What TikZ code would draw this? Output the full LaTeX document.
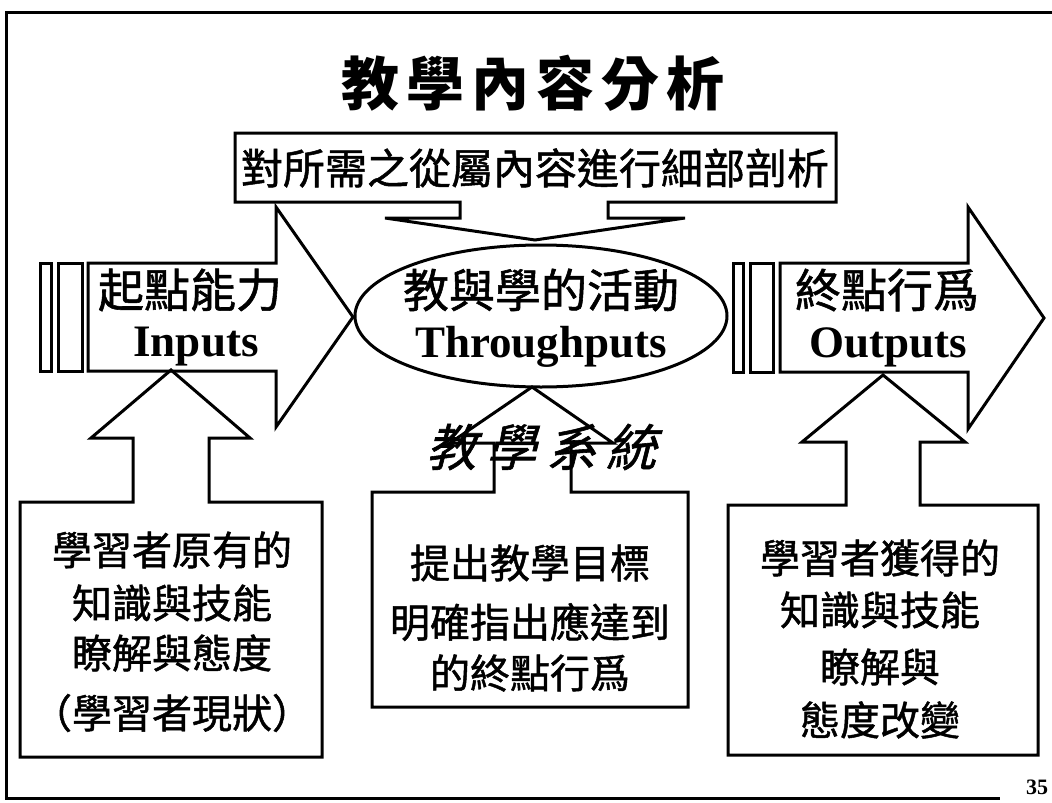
\documentclass[tikz,border=0pt]{standalone}
\usepackage{fontspec}
\setmainfont{Liberation Serif}
\newfontfamily\cjk[FakeBold=1.2]{Noto Sans CJK TC}
\newfontfamily\cjkplain{Noto Sans CJK TC}
\begin{document}
\begin{tikzpicture}[x=1pt,y=-1pt,line width=3pt,line join=miter,
  cjktext/.style={font=\cjk\fontsize{40}{40}\selectfont,inner sep=0pt},
  hdtext/.style={font=\cjk\fontsize{46}{46}\selectfont,inner sep=0pt},
  entext/.style={font=\bfseries\fontsize{45}{45}\selectfont,inner sep=0pt},
  outline/.style={draw=black,line width=3pt}]
\useasboundingbox (0,0) rectangle (1052,803);
\fill[white] (0,0) rectangle (1052,803);
% frame
\draw[line width=3pt] (1052,12) -- (6,12) -- (6,798) -- (1000,798);

% title
\node[font=\cjkplain\bfseries\fontsize{58}{58}\selectfont,inner sep=0pt] (title) at (533,83)
  {教\kern7pt學\kern7pt內\kern7pt容\kern7pt分\kern7pt析};

% top box with down arrow
\draw[outline] (235,133) -- (836,133) -- (836,202) -- (608,202) -- (608,218) -- (685,218)
  -- (535,240) -- (385,218) -- (460,218) -- (460,202) -- (235,202) -- cycle;
\node[font=\cjk\fontsize{42}{42}\selectfont,inner sep=0pt] (top) at (535,168) {對所需之從屬內容進行細部剖析};

% Inputs arrow
\draw[outline] (40,263) rectangle (51,371);
\draw[outline] (58,263) rectangle (82,371);
\draw[outline] (88,263) -- (276,263) -- (276,207) -- (353,317) -- (276,427) -- (276,371) -- (88,371) -- cycle;
\node[hdtext] (in1) at (190,290) {起點能力};
\node[entext] (in2) at (196,347) {Inputs};

% ellipse
\draw[outline] (541,316) ellipse [x radius=186, y radius=71];
\node[hdtext] (th1) at (541,290) {教與學的活動};
\node[entext] (th2) at (541,347) {Throughputs};

% Outputs arrow
\draw[outline] (733,263) rectangle (743,372);
\draw[outline] (750,263) rectangle (773,372);
\draw[outline] (780,263) -- (968,263) -- (968,207) -- (1044,318) -- (968,429) -- (968,372) -- (780,372) -- cycle;
\node[hdtext] (out1) at (887,290) {終點行爲};
\node[entext] (out2) at (888,347) {Outputs};

% box 1 with up arrow
\draw[outline] (20,757) -- (20,502) -- (133,502) -- (133,438) -- (91,438) -- (171,370)
  -- (250,438) -- (209,438) -- (209,502) -- (322,502) -- (322,757) -- cycle;
\node[cjktext] (b1a) at (172,550) {學習者原有的};
\node[cjktext] (b1b) at (172,603) {知識與技能};
\node[cjktext] (b1c) at (172,653) {瞭解與態度};
\node[cjktext] (b1d) at (172,713) {（學習者現狀）};

% box 2 with up arrow
\draw[outline] (372,707) -- (372,492) -- (494,492) -- (494,443) -- (450,443) -- (532,387)
  -- (613,443) -- (571,443) -- (571,492) -- (688,492) -- (688,707) -- cycle;
\node[font=\cjk\fontsize{50}{50}\selectfont,inner sep=0pt,xslant=0.25,transform shape] (sys) at (546,447)
  {教\kern10pt學\kern10pt系\kern10pt統};
\node[cjktext] (b2a) at (530,563) {提出教學目標};
\node[cjktext] (b2b) at (530,622) {明確指出應達到};
\node[cjktext] (b2c) at (530,673) {的終點行爲};

% box 3 with up arrow
\draw[outline] (728,755) -- (728,505) -- (846,505) -- (846,442) -- (802,442) -- (883,375)
  -- (965,442) -- (920,442) -- (920,505) -- (1038,505) -- (1038,755) -- cycle;
\node[cjktext] (b3a) at (880,558) {學習者獲得的};
\node[cjktext] (b3b) at (880,610) {知識與技能};
\node[cjktext] (b3c) at (880,667) {瞭解與};
\node[cjktext] (b3d) at (880,720) {態度改變};

% page number
\node[font=\bfseries\fontsize{22}{22}\selectfont,inner sep=0pt] (pg) at (1037,787) {35};
\end{tikzpicture}
\end{document}
